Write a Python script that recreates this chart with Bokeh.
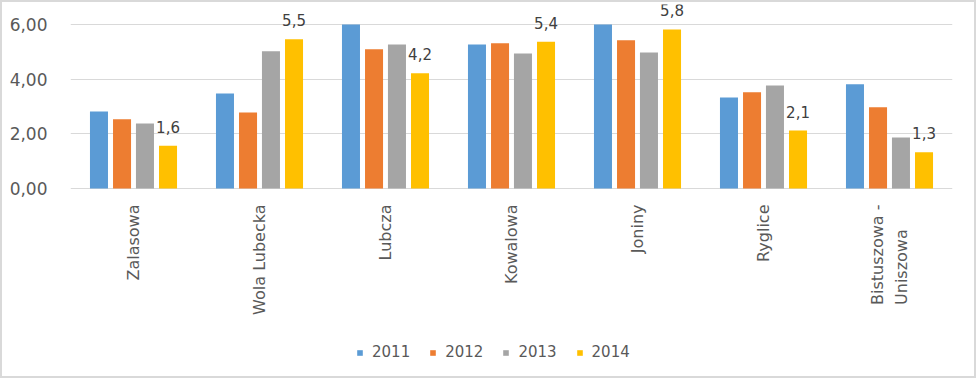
import math
from bokeh.plotting import figure
from bokeh.models import ColumnDataSource, FactorRange, Range1d, FixedTicker, LabelSet, Legend, LegendItem
from bokeh.core.properties import value
from bokeh.transform import dodge
from bokeh.embed import file_html
from bokeh.resources import INLINE

categories = ["Zalasowa", "Wola Lubecka", "Lubcza", "Kowalowa", "Joniny", "Ryglice", "Bistuszowa -\nUniszowa"]
years = ["2011", "2012", "2013", "2014"]
v2011 = [2.82, 3.48, 6.00, 5.27, 6.00, 3.33, 3.81]
v2012 = [2.53, 2.78, 5.09, 5.31, 5.42, 3.52, 2.97]
v2013 = [2.38, 5.02, 5.27, 4.94, 4.98, 3.77, 1.87]
v2014 = [1.56, 5.46, 4.22, 5.37, 5.82, 2.12, 1.33]
y_ticks = [0, 2, 4, 6]
colors = ["#5B9BD5", "#ED7D31", "#A5A5A5", "#FFC000"]

FONT = "DejaVu Sans"
TXT = "#595959"

src = ColumnDataSource(dict(
    cat=categories, zero=[0] * len(categories),
    y2011=v2011, y2012=v2012, y2013=v2013, y2014=v2014,
    lab=[f"{v:.1f}".replace(".", ",") for v in v2014],
))

# pixel scale: 164 px for 6 units
PX = 164 / 6
p = figure(x_range=FactorRange(*categories),
           y_range=Range1d(-186 / PX, 184 / PX),
           frame_width=882, frame_height=370, output_backend="svg", toolbar_location=None,
           x_axis_location=None,
           min_border_left=68, min_border_right=22, min_border_top=2, min_border_bottom=2)
p.styles = {"border": "2px solid #D9D9D9"}
p.outline_line_color = None

offsets = [-0.274, -0.091, 0.091, 0.274]
items = []
for yr, off, col in zip(years, offsets, colors):
    r = p.vbar(x=dodge("cat", off, range=p.x_range), top="y" + yr, width=0.143,
               source=src, fill_color=col, line_color=None)
    items.append(LegendItem(label=yr, renderers=[r]))

labels = LabelSet(x=dodge("cat", 0.274, range=p.x_range), y="y2014", text="lab", source=src,
                  text_align="center", text_baseline="alphabetic", y_offset=13,
                  text_font=value(FONT), text_font_size=value("15px"), text_color=value("#404040"))
p.add_layout(labels)

cat_labels = LabelSet(x="cat", y="zero", text="cat", source=src, angle=math.pi / 2,
                      text_align="right", text_baseline="middle", y_offset=-16,
                      text_font=value(FONT), text_font_size=value("16px"), text_color=value(TXT),
                      text_line_height=1.3)
p.add_layout(cat_labels)

p.yaxis.ticker = FixedTicker(ticks=y_ticks)
p.yaxis.major_label_overrides = {t: f"{t:.2f}".replace(".", ",") for t in y_ticks}
p.yaxis.axis_line_color = None
p.yaxis.major_tick_line_color = None
p.yaxis.minor_tick_line_color = None
p.yaxis.major_label_standoff = 17
p.yaxis.major_label_text_font = FONT
p.yaxis.major_label_text_font_size = "17px"
p.yaxis.major_label_text_color = TXT

p.xgrid.grid_line_color = None
p.ygrid.grid_line_color = "#D9D9D9"
p.ygrid.ticker = FixedTicker(ticks=y_ticks)

legend = Legend(items=items, orientation="horizontal", location=(286, 13),
                glyph_width=7, glyph_height=7, label_standoff=9, spacing=19,
                label_text_font=FONT, label_text_font_size="15px", label_text_color=TXT,
                border_line_color=None, background_fill_alpha=0, padding=4, margin=0)
p.add_layout(legend)

open("out.html", "w").write(file_html(p, INLINE))
